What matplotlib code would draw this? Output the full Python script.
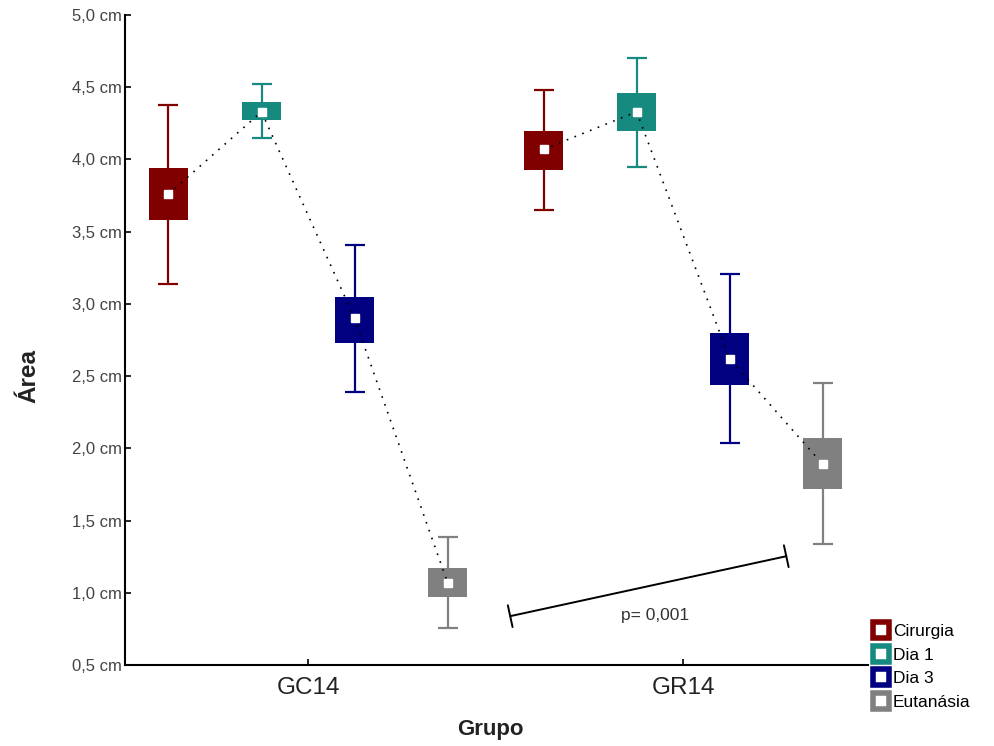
import numpy as np
import matplotlib
matplotlib.use("Agg")
import matplotlib.pyplot as plt
from matplotlib.lines import Line2D

plt.rcParams["font.family"] = ["Liberation Sans", "DejaVu Sans"]

groups = ["GC14", "GR14"]
series = ["Cirurgia", "Dia 1", "Dia 3", "Eutanásia"]
colors = ["#800000", "#178a80", "#000080", "#808080"]

# mean, box (lo/hi) and whiskers (lo/hi), per group
means = {"GC14": [3.76, 4.33, 2.90, 1.07],
         "GR14": [4.07, 4.33, 2.62, 1.89]}
box_lo = {"GC14": [3.58, 4.27, 2.73, 0.97],
          "GR14": [3.93, 4.20, 2.44, 1.72]}
box_hi = {"GC14": [3.94, 4.40, 3.05, 1.17],
          "GR14": [4.20, 4.46, 2.80, 2.07]}
wh_lo = {"GC14": [3.14, 4.15, 2.39, 0.755],
         "GR14": [3.65, 3.95, 2.04, 1.34]}
wh_hi = {"GC14": [4.38, 4.52, 3.41, 1.385],
         "GR14": [4.48, 4.70, 3.21, 2.45]}

yticks = [0.5, 1.0, 1.5, 2.0, 2.5, 3.0, 3.5, 4.0, 4.5, 5.0]
ytick_labels = [f"{v:.1f}".replace(".", ",") + " cm" for v in yticks]

p_text = "p= 0,001"
bracket_x = [0.539, 1.275]
bracket_y = [0.838, 1.253]

fig = plt.figure(figsize=(9.95, 7.46), dpi=100)
ax = fig.add_axes([0.1256, 0.1086, 0.7468, 0.8713])

offsets = np.array([-0.372, -0.124, 0.124, 0.372])
box_w = 0.104

for gi, g in enumerate(groups):
    xs = gi + offsets
    m = np.array(means[g])
    for si in range(len(series)):
        c = colors[si]
        ax.errorbar(xs[si], m[si],
                    yerr=[[m[si] - wh_lo[g][si]], [wh_hi[g][si] - m[si]]],
                    fmt="none", ecolor=c, elinewidth=1.6, capsize=7.5,
                    capthick=1.6, zorder=2)
        ax.bar(xs[si], box_hi[g][si] - box_lo[g][si], bottom=box_lo[g][si],
               width=box_w, color=c, zorder=3)
    ax.plot(xs, m, linestyle=(0, (1, 4)), color="black", linewidth=1.2, zorder=4)
    ax.plot(xs, m, "s", color="white", markersize=5.5, zorder=5)

# significance bracket
ax.annotate("", xy=(bracket_x[1], bracket_y[1]), xytext=(bracket_x[0], bracket_y[0]),
            arrowprops=dict(arrowstyle="|-|,widthA=0.8,widthB=0.8", color="black",
                            linewidth=1.4, shrinkA=0, shrinkB=0))
ax.text(0.925, 0.845, p_text, ha="center", va="center", fontsize=12.5, color="#333333")

ax.set_xlim(-0.488, 1.493)
ax.set_ylim(0.5, 5.0)
ax.set_yticks(yticks)
ax.set_yticklabels(ytick_labels, fontsize=12, color="#444444")
ax.set_xticks([0, 1])
ax.set_xticklabels(groups, fontsize=17.5, color="#222222")
ax.tick_params(axis="both", direction="in", length=4, width=1.2, pad=9)
ax.tick_params(axis="y", pad=2)
for s in ["top", "right"]:
    ax.spines[s].set_visible(False)
for s in ["left", "bottom"]:
    ax.spines[s].set_linewidth(1.5)

fig.text(29 / 995, 1 - 376 / 746, "Área", rotation=90, ha="center", va="center",
         fontsize=17.5, fontweight="bold", color="#222222")
fig.text(490 / 995, 1 - 730 / 746, "Grupo", ha="center", va="center",
         fontsize=16, fontweight="bold", color="#222222")

handles = [Line2D([], [], marker="s", linestyle="none", markersize=11,
                  markerfacecolor="white", markeredgecolor=c, markeredgewidth=4)
           for c in colors]
fig.legend(handles, series, loc="upper left", bbox_to_anchor=(0.866, 0.175),
           frameon=False, fontsize=12.5, handletextpad=0.1, labelspacing=0.48,
           handlelength=1.2, borderpad=0)

fig.savefig("out.png", dpi=100)
